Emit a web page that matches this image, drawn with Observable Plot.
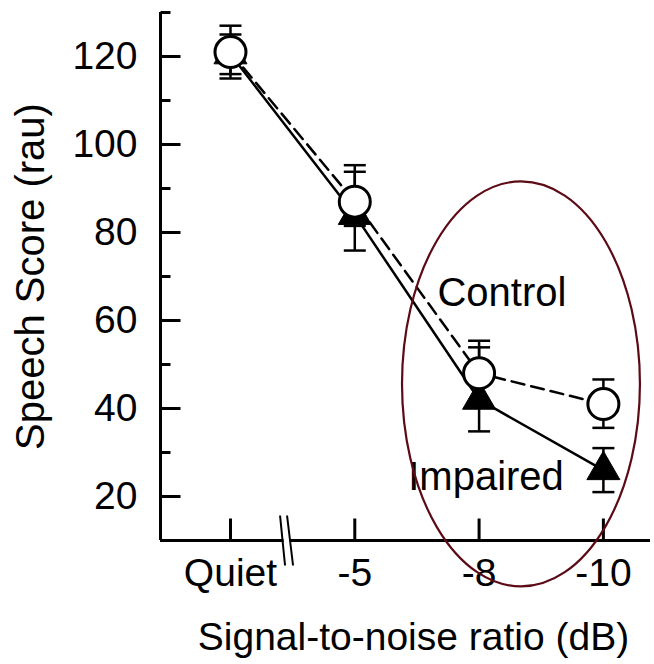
<!DOCTYPE html>
<html>
<head>
<meta charset="utf-8">
<script src="https://cdn.jsdelivr.net/npm/d3@7"></script>
<script src="https://cdn.jsdelivr.net/npm/@observablehq/plot@0.6"></script>
<style>
  html, body { margin: 0; padding: 0; background: #ffffff; }
  #chart { width: 654px; height: 664px; }
</style>
</head>
<body>
<div id="chart"></div>
<script>
// Listening conditions, in order along the x axis
const conditions = ["Quiet", "-5", "-8", "-10"];

// Control group: mean speech score and error-bar ends (rau)
const controlScore = [121, 87, 48, 41];
const controlLow   = [115, 81.5, 41, 35.6];
const controlHigh  = [127, 95.3, 55.4, 46.6];

// Impaired group: mean speech score and error-bar ends (rau)
const impairedScore = [120.5, 84, 42, 26];
const impairedLow   = [116, 75.9, 34.8, 21];
const impairedHigh  = [125, 93.8, 53.9, 31];

// Axis ticks
const yMajorTicks = [20, 40, 60, 80, 100, 120];
const yMinorTicks = [30, 50, 70, 90, 110, 130];
const xTicks = [0, 1, 2, 3];

// Group labels placed beside the lines
const groupLabels = ["Control", "Impaired"];
const groupLabelX = [1.665, 1.43];
const groupLabelY = [66.2, 24.3];

// Axis break between Quiet and -5, and the highlighted region (data units)
const axisBreakAt = 0.447;
const highlight = {x1: 1.384, x2: 3.298, y1: -0.55, y2: 91.5};

const xDomain = [-0.563, 3.379];
const yDomain = [10, 130];

const rows = (score, low, high) =>
  conditions.map((c, i) => ({i, condition: c, score: score[i], low: low[i], high: high[i]}));
const control = rows(controlScore, controlLow, controlHigh);
const impaired = rows(impairedScore, impairedLow, impairedHigh);
const labels = groupLabels.map((t, k) => ({text: t, x: groupLabelX[k], y: groupLabelY[k]}));

// Custom symbol: a straight stroke from the anchor point, in pixels
const stroke = (x0, y0, x1, y1) => ({
  draw(ctx) { ctx.moveTo(x0, y0); ctx.lineTo(x1, y1); }
});
// Axis break: two steep parallel slashes, with a white band between them
const breakSlashes = {
  draw(ctx) {
    ctx.moveTo(-6, -25); ctx.lineTo(-1, 25);
    ctx.moveTo(1, -25); ctx.lineTo(7, 25);
  }
};
const breakGap = {
  draw(ctx) {
    ctx.moveTo(-5, -25); ctx.lineTo(1, -25); ctx.lineTo(6, 25); ctx.lineTo(0, 25); ctx.closePath();
  }
};

const font = "'Liberation Sans', Arial, Helvetica, sans-serif";

const chart = Plot.plot({
  width: 654,
  height: 664,
  marginLeft: 160,
  marginRight: 4,
  marginTop: 12,
  marginBottom: 124,
  x: {type: "linear", domain: xDomain},
  y: {domain: yDomain},
  style: {fontFamily: font, fontSize: "39px", color: "black", background: "white", overflow: "visible"},
  marks: [
    // Axis lines
    Plot.ruleY([yDomain[0]], {stroke: "black", strokeWidth: 3}),
    Plot.ruleX([xDomain[0]], {stroke: "black", strokeWidth: 3}),

    // Inward ticks
    Plot.dot(yMajorTicks, {x: xDomain[0], y: d => d, symbol: stroke(0, 0, 20, 0), r: 1, fill: "none", stroke: "black", strokeWidth: 3}),
    Plot.dot(yMinorTicks, {x: xDomain[0], y: d => d, symbol: stroke(0, 0, 10, 0), r: 1, fill: "none", stroke: "black", strokeWidth: 3}),
    Plot.dot(xTicks, {x: d => d, y: yDomain[0], symbol: stroke(0, 0, 0, -22), r: 1, fill: "none", stroke: "black", strokeWidth: 3}),

    // Axis break
    Plot.dot([axisBreakAt], {x: d => d, y: yDomain[0], symbol: breakGap, r: 1, fill: "white", stroke: "none"}),
    Plot.dot([axisBreakAt], {x: d => d, y: yDomain[0], symbol: breakSlashes, r: 1, fill: "none", stroke: "black", strokeWidth: 2}),

    // Tick labels
    Plot.axisY(yMajorTicks, {tickSize: 0, tickPadding: 23, label: null, fontSize: 39}),
    Plot.axisX(xTicks, {tickSize: 0, tickPadding: 18, label: null, fontSize: 39, tickFormat: i => conditions[i]}),

    // Axis titles
    Plot.text(["Speech Score (rau)"], {frameAnchor: "left", rotate: -90, dx: -129, textAnchor: "middle", lineAnchor: "middle", fontSize: 40, fill: "black"}),
    Plot.text(["Signal-to-noise ratio (dB)"], {frameAnchor: "bottom", dx: 8, dy: 97, textAnchor: "middle", lineAnchor: "middle", fontSize: 39, fill: "black"}),

    // Group lines
    Plot.line(control, {x: "i", y: "score", stroke: "black", strokeWidth: 2.5, strokeDasharray: "13,7"}),
    Plot.line(impaired, {x: "i", y: "score", stroke: "black", strokeWidth: 2.5}),

    // Error bars with caps
    Plot.ruleX(impaired, {x: "i", y1: "low", y2: "high", stroke: "black", strokeWidth: 2.5}),
    Plot.ruleX(control, {x: "i", y1: "low", y2: "high", stroke: "black", strokeWidth: 2.5}),
    Plot.dot(impaired.flatMap(d => [{i: d.i, v: d.low}, {i: d.i, v: d.high}]),
      {x: "i", y: "v", symbol: stroke(-11, 0, 11, 0), r: 1, fill: "none", stroke: "black", strokeWidth: 2.5}),
    Plot.dot(control.flatMap(d => [{i: d.i, v: d.low}, {i: d.i, v: d.high}]),
      {x: "i", y: "v", symbol: stroke(-11, 0, 11, 0), r: 1, fill: "none", stroke: "black", strokeWidth: 2.5}),

    // Markers: filled triangles (Impaired) beneath open circles (Control)
    Plot.dot(impaired, {x: "i", y: "score", symbol: "triangle", r: 12.25, fill: "black", stroke: "black", strokeWidth: 1}),
    Plot.dot(control, {x: "i", y: "score", symbol: "circle", r: 15.5, fill: "white", stroke: "black", strokeWidth: 3}),

    // Group labels
    Plot.text(labels, {x: "x", y: "y", text: "text", textAnchor: "start", lineAnchor: "middle", fontSize: 40, fill: "black"}),

    // Highlight ellipse around the noisier conditions
    (index, scales) => {
      const xa = scales.x(highlight.x1), xb = scales.x(highlight.x2);
      const ya = scales.y(highlight.y2), yb = scales.y(highlight.y1);
      return d3.create("svg:ellipse")
        .attr("cx", (xa + xb) / 2)
        .attr("cy", (ya + yb) / 2)
        .attr("rx", (xb - xa) / 2)
        .attr("ry", (yb - ya) / 2)
        .attr("fill", "none")
        .attr("stroke", "#5c0a16")
        .attr("stroke-width", 2.2)
        .node();
    }
  ]
});

document.getElementById("chart").appendChild(chart);
</script>
</body>
</html>
